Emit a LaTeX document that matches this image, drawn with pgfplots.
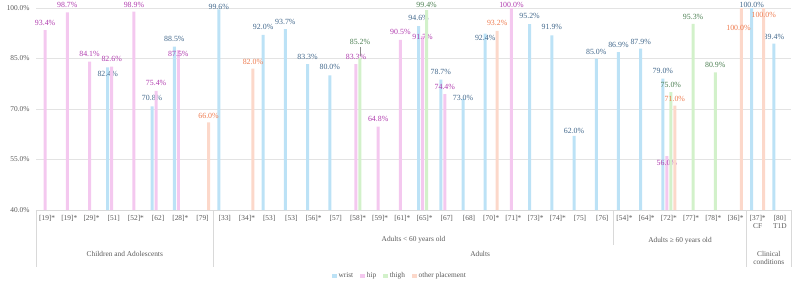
\documentclass[border=0pt]{standalone}
\usepackage{fontspec}
\setmainfont{Liberation Serif}
\usepackage{pgfplots}
\pgfplotsset{compat=1.18}

\definecolor{wristbar}{HTML}{BCE2F6}
\definecolor{hipbar}{HTML}{F4C8EF}
\definecolor{thighbar}{HTML}{D2F1CA}
\definecolor{otherbar}{HTML}{FCD8CA}
\definecolor{wristtxt}{HTML}{41678B}
\definecolor{hiptxt}{HTML}{B03CAE}
\definecolor{thightxt}{HTML}{4C7F52}
\definecolor{othertxt}{HTML}{EE7B4F}
\definecolor{axtxt}{HTML}{595959}
\definecolor{gridc}{HTML}{E3E3E3}
\definecolor{sepc}{HTML}{D9D9D9}

\newcommand{\axfont}{\fontsize{7.4}{7.9}\selectfont}
\newcommand{\lblfont}{\fontsize{7.9}{8.5}\selectfont}

\begin{document}
\begin{tikzpicture}
\path[use as bounding box] (-36bp,-78bp) rectangle (764bp,210bp);
\begin{axis}[
  at={(0,0)}, anchor=south west,
  scale only axis, width=755bp, height=202bp,
  xmin=-0.5, xmax=33.5, ymin=40, ymax=100,
  ybar=1bp, bar width=3bp,
  clip mode=individual,
  axis x line*=bottom, axis y line*=left,
  x axis line style={-, draw=sepc},
  y axis line style={draw=none},
  major tick length=0pt,
  ytick={40,55,70,85,100},
  ymajorgrids, grid style={draw=gridc},
  yticklabel={\pgfmathprintnumber[fixed,fixed zerofill,precision=1,assume math mode=true]{\tick}\%},
  yticklabel style={font=\axfont, text=axtxt, xshift=-3bp},
  xtick={0,...,33},
  xticklabels={{[19]*},{[19]*},{[29]*},{[51]},{[52]*},{[62]},{[28]*},{[79]},
    {[33]},{[34]*},{[53]},{[53]},{[56]*},{[57]},{[58]*},{[59]*},{[61]*},{[65]*},
    {[67]},{[68]},{[70]*},{[71]*},{[73]*},{[74]*},{[75]},{[76]},
    {[54]*},{[64]*},{[72]*},{[77]*},{[78]*},{[36]*},{[37]*\\CF},{[80]\\T1D}},
  xticklabel style={font=\axfont, text=axtxt, align=center, yshift=-2bp},
  nodes near coords={\pgfmathprintnumber[fixed,fixed zerofill,precision=1,assume math mode=true]{\pgfplotspointmeta}\%},
  visualization depends on={\thisrow{dy} \as \dy},
  visualization depends on={\thisrow{dx} \as \dx},
  every node near coord/.append style={font=\lblfont, anchor=center, inner sep=0pt, yshift=\dy bp, xshift=\dx bp},
  legend style={at={(0.482,-0.327)}, anchor=center, draw=none, fill=none,
    font=\axfont, text=axtxt, inner sep=0pt,
    /tikz/every even column/.append style={column sep=5bp}},
  legend columns=4,
  legend image code/.code={\fill[#1,draw=none] (0bp,-2.3bp) rectangle (4.6bp,2.3bp);},
]
% wrist
\addplot[fill=wristbar, draw=none, every node near coord/.append style={text=wristtxt}] table {
x y dy dx
3 82.4 -7 0
5 70.8 8 0
6 88.5 8 0
8 99.6 2 0
10 92.0 8 0
11 93.7 7 0
12 83.3 7 0
13 80.0 8 0
17 94.6 8 0
18 78.7 8 0
19 73.0 1 0
20 92.4 -4 0
22 95.2 8 0
23 91.9 8 0
24 62.0 5 0
25 85.0 7 0
26 86.9 7 0
27 87.9 7 0
28 79.0 8 0
32 100.0 3 0
33 89.4 7 0
};
% hip
\addplot[fill=hipbar, draw=none, every node near coord/.append style={text=hiptxt}] table {
x y dy dx
0 93.4 7 0
1 98.7 7 0
2 84.1 8 0
3 82.6 8 0
4 98.9 7 0
5 75.4 8 0
6 87.5 -4 0
14 83.3 7 0
15 64.8 8 0
16 90.5 8 0
17 91.7 -1 0
18 74.4 7 0
21 100.0 3 0
28 56.0 -7 0
};
% thigh
\addplot[fill=thighbar, draw=none, every node near coord/.append style={text=thightxt}] table {
x y dy dx
14 85.2 16 0
17 99.4 5 0
28 75.0 7 0
29 95.3 7 0
30 80.9 7 0
};
% other placement
\addplot[fill=otherbar, draw=none, every node near coord/.append style={text=othertxt}] table {
x y dy dx
7 66.0 7 0
9 82.0 7 0
20 93.2 8 0
28 71.0 7 0
31 100.0 -20 -3
32 100.0 -7 0
};
\legend{wrist, hip, thigh, other placement}

% leader line of the lifted 85.2% label
\draw[black!45, line width=0.4pt] ([xshift=2bp,yshift=2bp]axis cs:14,85.2) -- ([xshift=2bp,yshift=11bp]axis cs:14,85.2);

% group separators below the category axis
\draw[sepc] (axis cs:-0.5,40) -- ([yshift=-57bp]axis cs:-0.5,40);
\draw[sepc] (axis cs:7.5,40) -- ([yshift=-57bp]axis cs:7.5,40);
\draw[sepc] (axis cs:25.5,40) -- ([yshift=-35bp]axis cs:25.5,40);
\draw[sepc] (axis cs:31.5,40) -- ([yshift=-57bp]axis cs:31.5,40);
\draw[sepc] (axis cs:33.5,40) -- ([yshift=-57bp]axis cs:33.5,40);

% group names
\node[font=\axfont, text=axtxt] at ([yshift=-44bp]axis cs:3.5,40) {Children and Adolescents};
\node[font=\axfont, text=axtxt] at ([yshift=-30bp]axis cs:16.5,40) {Adults < 60 years old};
\node[font=\axfont, text=axtxt] at ([yshift=-44bp]axis cs:19.5,40) {Adults};
\node[font=\axfont, text=axtxt] at ([yshift=-31bp]axis cs:28.5,40) {Adults ≥ 60 years old};
\node[font=\axfont, text=axtxt, align=center] at ([yshift=-48bp]axis cs:32.5,40) {Clinical\\conditions};
\end{axis}
\end{tikzpicture}
\end{document}
